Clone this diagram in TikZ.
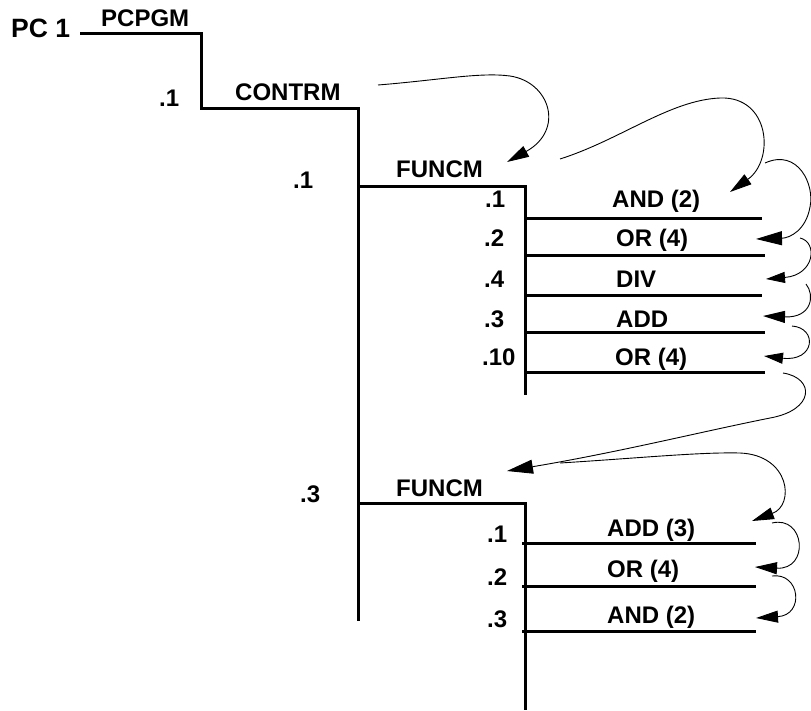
\documentclass[tikz,border=0pt]{standalone}
\usepackage{fontspec}
\setmainfont{Liberation Sans}
\usetikzlibrary{arrows.meta}
\begin{document}
\begin{tikzpicture}[x=1pt,y=-1pt,
  tree/.style={line width=3pt},
  flow/.style={line width=0.9pt,-{Triangle[length=22pt,width=12pt]}},
  bigtip/.style={-{Triangle[length=26pt,width=14pt]}},
  smalltip/.style={-{Triangle[length=19pt,width=11pt]}},
  lab/.style={font=\fontsize{24}{28}\selectfont\bfseries,inner sep=0pt,anchor=base west},
  biglab/.style={lab,font=\fontsize{26.5}{31}\selectfont\bfseries}]
\useasboundingbox (0,0) rectangle (811,710);

% ---------- labels ----------
\node[biglab] (pc)     at (11,37)  {PC 1};
\node[lab]    (pcpgm)  at (101,26) {PCPGM};
\node[lab]    (sel1)   at (159,106){.1};
\node[lab]    (contrm) at (235,100){CONTRM};
\node[lab]    (sel2)   at (293,188){.1};
\node[lab]    (funA)   at (396,177){FUNCM};
\node[lab]    (sel3)   at (300,502){.3};
\node[lab]    (funB)   at (396,496){FUNCM};

% first function block
\node[lab] (a1) at (485,207) {.1};
\node[lab] (a2) at (484,246) {.2};
\node[lab] (a3) at (484,287) {.4};
\node[lab] (a4) at (484,327) {.3};
\node[lab] (a5) at (482,365) {.10};
\node[lab] (ta1) at (612,207) {AND (2)};
\node[lab] (ta2) at (616,246) {OR (4)};
\node[lab] (ta3) at (616,287) {DIV};
\node[lab] (ta4) at (616,327) {ADD};
\node[lab] (ta5) at (615,365) {OR (4)};

% second function block
\node[lab] (b1) at (487,542) {.1};
\node[lab] (b2) at (487,585) {.2};
\node[lab] (b3) at (487,627) {.3};
\node[lab] (tb1) at (607,536) {ADD (3)};
\node[lab] (tb2) at (607,577) {OR (4)};
\node[lab] (tb3) at (607,623) {AND (2)};

% ---------- tree ----------
\coordinate (p0) at (80,33);
\coordinate (p1) at (201,33);
\coordinate (p2) at (201,108);
\coordinate (p3) at (358,108);
\coordinate (p4) at (358,621);
\draw[tree] (p0) -- (p1) -- (p2) -- (p3) -- (p4);

\coordinate (fa0) at (358,186);
\coordinate (fa1) at (525,186);
\coordinate (fa2) at (525,395);
\draw[tree] (fa0) -- (fa1) -- (fa2);

\coordinate (ra1) at (525,218); \coordinate (ea1) at (762,218);
\coordinate (ra2) at (525,255); \coordinate (ea2) at (765,255);
\coordinate (ra3) at (525,295); \coordinate (ea3) at (762,295);
\coordinate (ra4) at (525,332); \coordinate (ea4) at (765,332);
\coordinate (ra5) at (525,372); \coordinate (ea5) at (765,372);
\draw[tree] (ra1) -- (ea1);
\draw[tree] (ra2) -- (ea2);
\draw[tree] (ra3) -- (ea3);
\draw[tree] (ra4) -- (ea4);
\draw[tree] (ra5) -- (ea5);

\coordinate (fb0) at (358,503);
\coordinate (fb1) at (525,503);
\coordinate (fb2) at (525,710);
\draw[tree] (fb0) -- (fb1) -- (fb2);

\coordinate (rb1) at (522,543); \coordinate (eb1) at (756,543);
\coordinate (rb2) at (522,586); \coordinate (eb2) at (756,586);
\coordinate (rb3) at (522,631); \coordinate (eb3) at (756,631);
\draw[tree] (rb1) -- (eb1);
\draw[tree] (rb2) -- (eb2);
\draw[tree] (rb3) -- (eb3);

% ---------- control flow ----------
\coordinate (s1) at (378,85);   \coordinate (t1) at (507,162);
\coordinate (s2) at (560,159);  \coordinate (t2) at (730,192);
\coordinate (s3) at (765,163);  \coordinate (t3) at (756,239);
\coordinate (s4) at (800,238);  \coordinate (t4) at (766,279);
\coordinate (s5) at (806,284);  \coordinate (t5) at (763,316);
\coordinate (s6) at (792,326);  \coordinate (t6) at (764,356);
\coordinate (s7) at (783,373);  \coordinate (t7) at (507,471);
\coordinate (s8) at (560,463);  \coordinate (t8) at (752,521);
\coordinate (s9) at (772,523);  \coordinate (t9) at (755,567);
\coordinate (s10) at (772,576); \coordinate (t10) at (756,618);

\draw[flow] (s1) .. controls (440,80) and (480,72) .. (510,76)
             .. controls (550,82) and (565,130) .. (t1);
\draw[flow] (s2) .. controls (620,140) and (670,100) .. (720,98)
             .. controls (770,96) and (775,160) .. (t2);
\draw[flow,bigtip] (s3) .. controls (798,148) and (815,185) .. (810,207)
             .. controls (806,230) and (790,238) .. (t3);
\draw[flow,smalltip] (s4) .. controls (818,242) and (815,275) .. (t4);
\draw[flow] (s5) .. controls (815,295) and (812,318) .. (t5);
\draw[flow,smalltip] (s6) .. controls (818,328) and (815,362) .. (t6);
\draw[flow,bigtip] (s7) .. controls (815,378) and (815,410) .. (770,418)
             .. controls (700,432) and (620,452) .. (t7);
\draw[flow] (s8) .. controls (640,458) and (700,452) .. (740,453)
             .. controls (790,455) and (795,505) .. (t8);
\draw[flow] (s9) .. controls (805,515) and (810,570) .. (t9);
\draw[flow] (s10) .. controls (800,572) and (805,615) .. (t10);
\end{tikzpicture}
\end{document}
